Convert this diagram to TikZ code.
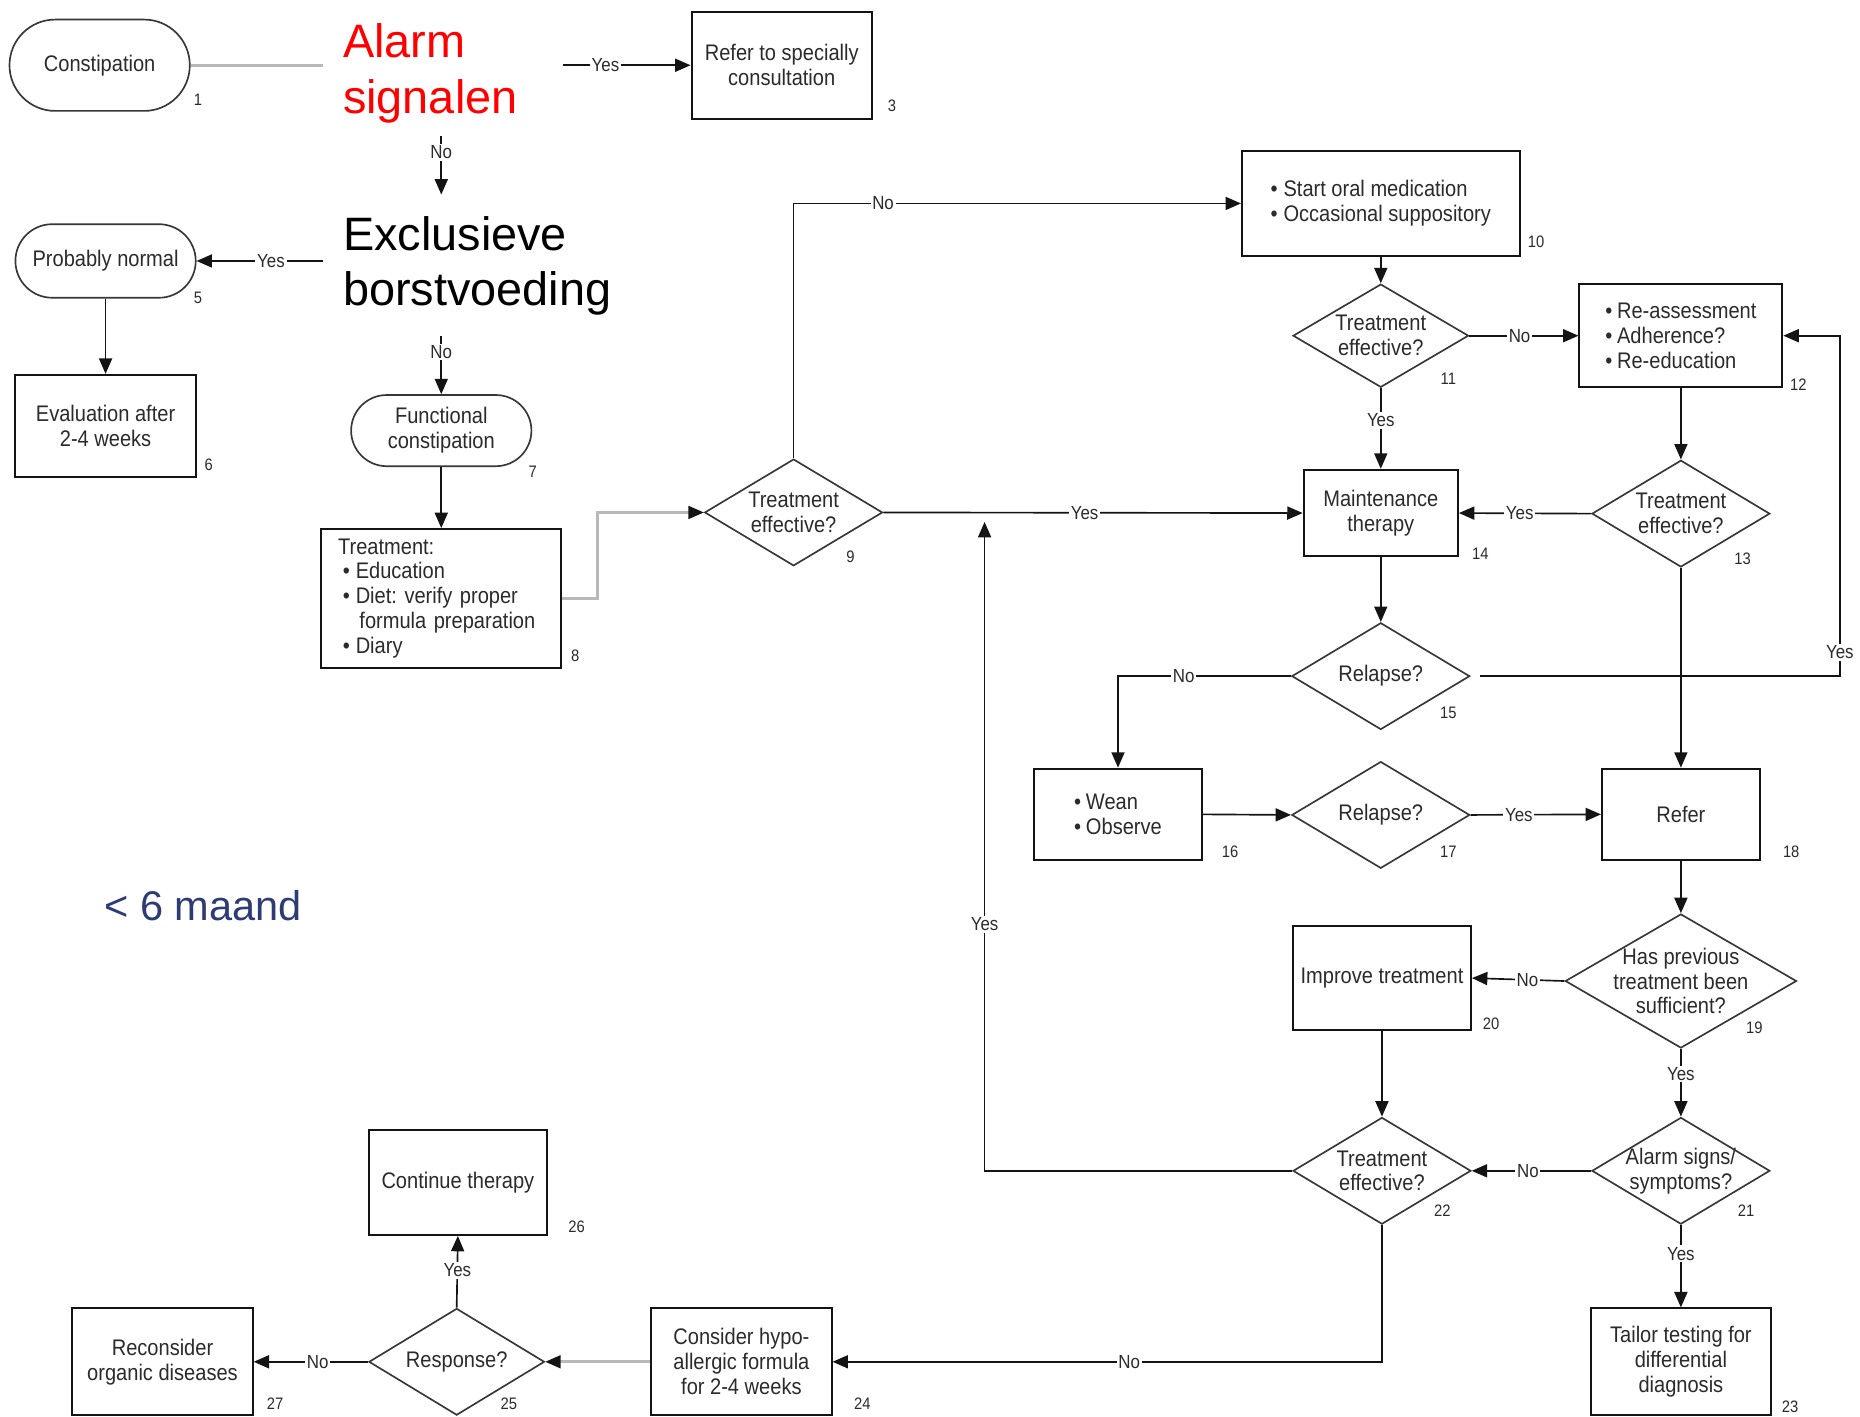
\documentclass[tikz,border=0pt]{standalone}
\usepackage{fontspec}
\setmainfont{Liberation Sans}
\newfontfamily\fcfont[FakeStretch=0.89]{Liberation Sans}
\usetikzlibrary{arrows.meta,shapes.geometric,shapes.misc}
\definecolor{txt}{HTML}{2B2B2B}
\definecolor{ln}{HTML}{141414}
\definecolor{navy}{HTML}{2E3B74}
\definecolor{alarmred}{HTML}{FF0000}
\frenchspacing
\begin{document}
\begin{tikzpicture}[x=1pt,y=-1pt,
 every node/.style={font=\fcfont\fontsize{19}{21}\selectfont, text=txt},
 box/.style={draw=ln, line width=1.7pt, rectangle, inner sep=0pt, align=center},
 stad/.style={draw=ln!85, line width=1.4pt, rounded rectangle, inner sep=0pt, align=center},
 dia/.style={draw=ln!85, line width=1.4pt, diamond, inner sep=0pt},
 dtxt/.style={inner sep=0pt, align=center},
 num/.style={font=\fcfont\fontsize{14}{14}\selectfont, inner sep=0pt},
 elab/.style={font=\fcfont\fontsize{16}{16}\selectfont, fill=white, inner sep=1.5pt},
 conn/.style={draw=ln, line width=1.4pt},
 arr/.style={conn, -{Triangle[length=13pt,width=11pt]}},
 grey/.style={draw=gray!55, line width=2.6pt},
 big/.style={font=\fontsize{39.5}{47}\selectfont, align=left, inner sep=0pt, anchor=north west},
]
\useasboundingbox (0,0) rectangle (1568,1194);
\fill[white] (0,0) rectangle (1568,1194);

% big overlay texts
\node[big, text=alarmred] (alarm) at (289,19.5) {Alarm\\signalen};
\node[big, text=black] (excl) at (289,182) {Exclusieve\\borstvoeding};
\node[font=\fontsize{35}{40}\selectfont, text=navy, anchor=base west, inner sep=0pt] (age) at (88,776) {< 6 maand};

% coordinates at the overlay texts
\coordinate (alarmL) at (272,55);
\coordinate (alarmR) at (475,55);
\coordinate (alarmB) at (372,115);
\coordinate (alarmN) at (372,164);
\coordinate (exclL) at (272,220);
\coordinate (exclB) at (372,283);

% nodes
\node[stad, minimum width=152pt, minimum height=77pt] (c1) at (84,55) {Constipation};
\node[num] (n1) at (167,84) {1};
\node[box, minimum width=152pt, minimum height=90pt] (b3) at (659,55) {Refer to specially\\consultation};
\node[num] (n3) at (752,89) {3};
\node[stad, minimum width=152pt, minimum height=62pt] (c5) at (89,220) {Probably normal};
\node[num] (n5) at (167,251) {5};
\node[box, minimum width=152pt, minimum height=86pt] (b6) at (89,359) {Evaluation after\\2-4 weeks};
\node[num] (n6) at (176,392) {6};
\node[stad, minimum width=152pt, minimum height=60pt] (c7) at (372,363) {Functional\\constipation};
\node[num] (n7) at (449,398) {7};
\node[box, minimum width=202pt, minimum height=117pt, text width=174pt, align=left] (b8) at (372,504.5)
 {Treatment:\\\hspace*{4pt}\textbullet\hspace{5pt}Education\\\hspace*{4pt}\textbullet\hspace{5pt}Diet: verify proper\\\hspace*{18pt}formula preparation\\\hspace*{4pt}\textbullet\hspace{5pt}Diary};
\node[num] (n8) at (485,553) {8};
\node[dia, minimum width=150pt, minimum height=90pt] (d9) at (669,432) {};
\node[dtxt] (t9) at (d9) {Treatment\\effective?};
\node[num] (n9) at (717,469) {9};
\node[box, minimum width=234pt, minimum height=89pt, align=left] (b10) at (1164,171.5)
 {\textbullet\hspace{5pt}Start oral medication\\\textbullet\hspace{5pt}Occasional suppository};
\node[num] (n10) at (1295,204) {10};
\node[dia, minimum width=148pt, minimum height=87pt] (d11) at (1164,283) {};
\node[dtxt] (t11) at (d11) {Treatment\\effective?};
\node[num] (n11) at (1221,319) {11};
\node[box, minimum width=171pt, minimum height=87pt, align=left] (b12) at (1417,283)
 {\textbullet\hspace{4pt}Re-assessment\\\textbullet\hspace{4pt}Adherence?\\\textbullet\hspace{4pt}Re-education};
\node[num] (n12) at (1516,324) {12};
\node[dia, minimum width=150pt, minimum height=90pt] (d13) at (1417,433) {};
\node[dtxt] (t13) at (d13) {Treatment\\effective?};
\node[num] (n13) at (1469,471) {13};
\node[box, minimum width=130pt, minimum height=73pt] (b14) at (1164,432.5) {Maintenance\\therapy};
\node[num] (n14) at (1248,467) {14};
\node[dia, minimum width=150pt, minimum height=90pt] (d15) at (1164,570) {};
\node[dtxt] (t15) at (d15) {Relapse?};
\node[num] (n15) at (1221,601) {15};
\node[box, minimum width=141pt, minimum height=77pt, align=left] (b16) at (942.5,686.5)
 {\textbullet\hspace{4pt}Wean\\\textbullet\hspace{4pt}Observe};
\node[num] (n16) at (1037,718) {16};
\node[dia, minimum width=150pt, minimum height=90pt] (d17) at (1164,687) {};
\node[dtxt] (t17) at (d17) {Relapse?};
\node[num] (n17) at (1221,718) {17};
\node[box, minimum width=133pt, minimum height=77pt] (b18) at (1417,686.5) {Refer};
\node[num] (n18) at (1510,718) {18};
\node[dia, minimum width=195pt, minimum height=113pt] (d19) at (1417,827) {};
\node[dtxt] (t19) at (d19) {Has previous\\treatment been\\sufficient?};
\node[num] (n19) at (1479,866) {19};
\node[box, minimum width=150pt, minimum height=87pt] (b20) at (1165,824.5) {Improve treatment};
\node[num] (n20) at (1257,863) {20};
\node[dia, minimum width=150pt, minimum height=90pt] (d21) at (1417,987) {};
\node[dtxt] (t21) at (d21) {Alarm signs/\\symptoms?};
\node[num] (n21) at (1472,1021) {21};
\node[dia, minimum width=150pt, minimum height=90pt] (d22) at (1165,987) {};
\node[dtxt] (t22) at (d22) {Treatment\\effective?};
\node[num] (n22) at (1216,1021) {22};
\node[box, minimum width=152pt, minimum height=90pt] (b23) at (1417,1148) {Tailor testing for\\differential\\diagnosis};
\node[num] (n23) at (1509,1186) {23};
\node[box, minimum width=152pt, minimum height=90pt] (b24) at (625,1148) {Consider hypo-\\allergic formula\\for 2-4 weeks};
\node[num] (n24) at (727,1183) {24};
\node[dia, minimum width=148pt, minimum height=90pt] (d25) at (385,1148) {};
\node[dtxt] (t25) at (d25) {Response?};
\node[num] (n25) at (429,1183) {25};
\node[box, minimum width=150pt, minimum height=88pt] (b26) at (386,997) {Continue therapy};
\node[num] (n26) at (486,1034) {26};
\node[box, minimum width=152pt, minimum height=90pt] (b27) at (137,1148) {Reconsider\\organic diseases};
\node[num] (n27) at (232,1183) {27};

\coordinate (yr) at (1551,570);
\coordinate (yesup) at (830,440);

% connectors
\draw[grey] (c1.east) -- (alarmL);
\draw[arr] (alarmR) -- node[elab,pos=0.33]{Yes} (b3.west);
\draw[arr] (alarmB) -- node[elab,pos=0.27]{No} (alarmN);
\draw[arr] (exclL) -- node[elab,pos=0.41]{Yes} (c5.east);
\draw[arr] (c5.south) -- (b6.north);
\draw[arr] (exclB) -- node[elab,pos=0.28]{No} (c7.north);
\draw[arr] (c7.south) -- (b8.north);
\draw[grey] (b8.east) -- ++(30,0) |- ([xshift=-6pt]d9.west);
\draw[arr] ([xshift=-8pt]d9.west) -- (d9.west);
\draw[arr] (d9.north) |- node[elab,pos=0.6]{No} (b10.west);
\draw[arr] (d9.east) -- node[elab,pos=0.48]{Yes} (b14.west);
\draw[arr] (b10.south) -- (d11.north);
\draw[arr] (d11.east) -- node[elab,pos=0.46]{No} (b12.west);
\draw[arr] (d11.south) -- node[elab,pos=0.4]{Yes} (b14.north);
\draw[arr] (b12.south) -- (d13.north);
\draw[arr] (d13.west) -- node[elab,pos=0.54]{Yes} (b14.east);
\draw[arr] (b14.south) -- (d15.north);
\draw[arr] ([xshift=8pt]d15.east) -- (yr) -- node[elab,pos=0.07]{Yes} (yr |- b12.east) -- (b12.east);
\draw[arr] (d15.west) -| node[elab,pos=0.31]{No} (b16.north);
\draw[arr] (d13.south) -- (b18.north);
\draw[arr] (b16.east) -- (d17.west);
\draw[arr] (d17.east) -- node[elab,pos=0.37]{Yes} (b18.west);
\draw[arr] (b18.south) -- (d19.north);
\draw[arr] (d19.west) -- node[elab,pos=0.4]{No} (b20.east);
\draw[arr] (b20.south) -- (d22.north);
\draw[arr] (d19.south) -- node[elab,pos=0.37]{Yes} (d21.north);
\draw[arr] (d21.west) -- node[elab,pos=0.53]{No} (d22.east);
\draw[arr] (d22.west) -| node[elab,pos=0.69]{Yes} (yesup);
\draw[arr] (d21.south) -- node[elab,pos=0.35]{Yes} (b23.north);
\draw[arr] (d22.south) |- node[elab,pos=0.73]{No} (b24.east);
\draw[grey] (b24.west) -- ([xshift=6pt]d25.east);
\draw[arr] ([xshift=8pt]d25.east) -- (d25.east);
\draw[arr] (d25.north) -- node[elab,pos=0.52]{Yes} (b26.south);
\draw[arr] (d25.west) -- node[elab,pos=0.44]{No} (b27.east);
\end{tikzpicture}
\end{document}
